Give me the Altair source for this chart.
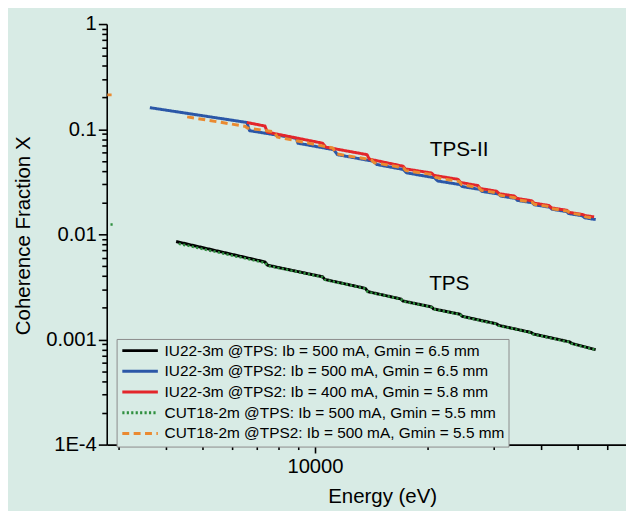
import altair as alt
import pandas as pd

# ---------------- data ----------------
SERIES = [
    "IU22-3m @TPS: Ib = 500 mA, Gmin = 6.5 mm",
    "IU22-3m @TPS2: Ib = 500 mA, Gmin = 6.5 mm",
    "IU22-3m @TPS2: Ib = 400 mA, Gmin = 5.8 mm",
    "CUT18-2m @TPS: Ib = 500 mA, Gmin = 5.5 mm",
    "CUT18-2m @TPS2: Ib = 500 mA, Gmin = 5.5 mm",
]

# IU22-3m @TPS, 500 mA (black)
iu22_tps_E = [4264, 7356, 7477, 10478, 10624, 13622, 13830, 16940, 17147, 20442,
              20691, 24369, 24667, 30499, 30870, 37694, 38153, 47752, 48334, 55997]
iu22_tps_X = [0.00854, 0.005461, 0.005083, 0.003946, 0.003724, 0.003064, 0.002852,
              0.002427, 0.002324, 0.002041, 0.001955, 0.001736, 0.001662, 0.001407,
              0.001362, 0.001166, 0.001129, 0.0009474, 0.0009173, 0.0008004]

# IU22-3m @TPS2, 500 mA (blue)
iu22_tps2_500_E = [3629, 6583, 6691, 8913, 9005, 11220, 11475, 14297, 14622, 17179,
                   17537, 20817, 21238, 24369, 24667, 27508, 27844, 30870, 31242, 34213,
                   34630, 37928, 38390, 42299, 42813, 46887, 47460, 51663, 52290, 55997]
iu22_tps2_500_X = [0.16021, 0.11584, 0.09681, 0.081967, 0.073564, 0.063781, 0.057251,
                   0.049527, 0.046117, 0.041391, 0.038457, 0.034517, 0.032142, 0.029715,
                   0.02846, 0.026739, 0.025606, 0.024144, 0.023124, 0.021954, 0.021024,
                   0.019961, 0.019117, 0.018089, 0.017322, 0.016447, 0.01575, 0.015005,
                   0.01437, 0.013819]

# IU22-3m @TPS2, 400 mA (red)
iu22_tps2_400_E = [6583, 7356, 7463, 10478, 10690, 13762, 13955, 17179, 17410, 20442,
                   20755, 24076, 24443, 27176, 27593, 30499, 30960, 34007, 34526, 37813,
                   38390, 42041, 42681, 46887, 47604, 51663, 52450, 55457]
iu22_tps2_400_X = [0.11584, 0.10716, 0.093722, 0.073564, 0.067475, 0.057251, 0.051939,
                   0.044453, 0.041933, 0.038292, 0.036357, 0.033344, 0.031114, 0.029098,
                   0.027269, 0.025724, 0.02437, 0.023138, 0.021968, 0.020857, 0.019802,
                   0.018802, 0.017851, 0.016949, 0.01616, 0.015444, 0.01508, 0.014661]

# CUT18-2m @TPS (green dotted); a lone point near the axis, then the main curve
cut18_tps_stray_E = [2850, 2890]
cut18_tps_stray_X = [0.0124, 0.0124]
cut18_tps_E = [4334, 7356, 7477, 10478, 10624, 13622, 13830, 16940, 17147, 20442,
               20691, 24369, 24667, 30499, 30870, 37694, 38153, 47752, 48334, 55895]
cut18_tps_X = [0.008144, 0.005367, 0.005029, 0.003912, 0.0037, 0.003044, 0.002834,
               0.002411, 0.002309, 0.002028, 0.001942, 0.001725, 0.001651, 0.001398,
               0.001353, 0.001158, 0.001122, 0.0009413, 0.0009114, 0.000797]

# CUT18-2m @TPS2 (orange dashed); a lone dash near the axis, then the main curve
cut18_tps2_stray_E = [2795, 2870]
cut18_tps2_stray_X = [0.212, 0.212]
cut18_tps2_E = [4563, 6504, 6603, 7753, 7943, 11152, 11391, 14125, 14384, 17200,
                17462, 20629, 21007, 24222, 24592, 27342, 27762, 30679, 31148, 34112,
                34630, 37928, 38390, 42299, 42813, 47173, 47752, 51975, 52610, 55722]
cut18_tps2_X = [0.13103, 0.1067, 0.10263, 0.094736, 0.084119, 0.066314, 0.058243,
                0.051161, 0.047946, 0.043036, 0.040329, 0.036992, 0.034665, 0.031794,
                0.029798, 0.027746, 0.026172, 0.024796, 0.023493, 0.022256, 0.021314,
                0.02019, 0.019337, 0.01832, 0.017543, 0.016621, 0.015918, 0.015247,
                0.014661, 0.014194]

# annotations
ann_text = ["TPS-II", "TPS"]
ann_E = [24222, 22798]
ann_X = [0.06282, 0.0033924]

# axis ticks
x_domain = [2785, 67450]
y_domain = [1e-4, 1]
x_major = [10000]
x_major_labels = ["10000"]
x_minor = [3000, 4000, 5000, 6000, 7000, 8000, 9000, 20000, 30000, 40000, 50000, 60000]
y_major = [1e-4, 1e-3, 1e-2, 0.1, 1]
y_major_labels = ["1E-4", "0.001", "0.01", "0.1", "1"]
y_minor = [m * d for d in [1e-4, 1e-3, 1e-2, 0.1] for m in range(2, 10)]

# ---------------- styles ----------------
BG = "#d8ebe5"
FONT = "Liberation Sans"
COLORS = ["#000000", "#2b57a7", "#e3262b", "#2f8f3f", "#ea8a30"]
DASHES = [[1, 0], [1, 0], [1, 0], [2.2, 2.3], [7, 4.5]]
WIDTHS = [3, 3, 3, 2.6, 3]

# ---------------- build table ----------------
rows = []
def add(series, seg, Es, Xs):
    for i, (e, x) in enumerate(zip(Es, Xs)):
        rows.append({"series": series, "seg": seg, "i": i, "E": e, "X": x})

add(SERIES[0], "a", iu22_tps_E, iu22_tps_X)
add(SERIES[1], "a", iu22_tps2_500_E, iu22_tps2_500_X)
add(SERIES[2], "a", iu22_tps2_400_E, iu22_tps2_400_X)
add(SERIES[3], "s", cut18_tps_stray_E, cut18_tps_stray_X)
add(SERIES[3], "a", cut18_tps_E, cut18_tps_X)
add(SERIES[4], "s", cut18_tps2_stray_E, cut18_tps2_stray_X)
add(SERIES[4], "a", cut18_tps2_E, cut18_tps2_X)
df = pd.DataFrame(rows)

ann_df = pd.DataFrame({"label": ann_text, "E": ann_E, "X": ann_X})


def label_expr(values, labels):
    parts = [f"abs(datum.value / {v} - 1) < 1e-6 ? '{lab}'" for v, lab in zip(values, labels)]
    return " : ".join(parts) + " : ''"


x_scale = alt.Scale(type="log", domain=x_domain)
y_scale = alt.Scale(type="log", domain=y_domain)
color_scale = alt.Scale(domain=SERIES, range=COLORS)
dash_scale = alt.Scale(domain=SERIES, range=DASHES)

# long, flat line symbol: custom path scaled by sqrt(size)/2
legend = alt.Legend(
    title=None, orient="none", legendX=10, legendY=319, direction="vertical",
    symbolType="M-1,0H5", symbolSize=144, symbolStrokeWidth=3,
    labelFont=FONT, labelFontSize=15.6, labelColor="black", labelOffset=29,
    labelLimit=500, padding=4, rowPadding=4,
    strokeColor="#8a8a8a", fillColor=BG,
)

x_major_axis = alt.Axis(
    orient="bottom", values=x_major, labelExpr=label_expr(x_major, x_major_labels),
    tickSize=8.5, tickWidth=1.6, domainWidth=1.6, labelFontSize=20.5,
    labelPadding=20, labelBaseline="alphabetic",
    title="Energy (eV)", titleFontSize=20.7, titleX=279, titleY=59,
    titleAlign="center", titleBaseline="alphabetic",
)
y_major_axis = alt.Axis(
    orient="left", values=y_major, labelExpr=label_expr(y_major, y_major_labels),
    tickSize=8.5, tickWidth=1.6, domainWidth=1.6, labelFontSize=20.5, labelPadding=2,
    title="Coherence Fraction X", titleFontSize=20.7, titleAngle=270,
    titleX=-78, titleY=214, titleAlign="center", titleBaseline="alphabetic",
)
x_minor_axis = alt.Axis(orient="bottom", values=x_minor, labels=False, domain=False,
                        tickSize=5, tickWidth=1.6, title=None)
y_minor_axis = alt.Axis(orient="left", values=y_minor, labels=False, domain=False,
                        tickSize=5, tickWidth=1.6, title=None)

layers = []
for k, s in enumerate(SERIES):
    layers.append(
        alt.Chart(df)
        .transform_filter(alt.datum.series == s)
        .mark_line(strokeWidth=WIDTHS[k], clip=True, strokeCap="butt", strokeJoin="round")
        .encode(
            x=alt.X("E:Q", scale=x_scale, axis=x_major_axis if k == 0 else None),
            y=alt.Y("X:Q", scale=y_scale, axis=y_major_axis if k == 0 else None),
            color=alt.Color("series:N", scale=color_scale, legend=legend),
            strokeDash=alt.StrokeDash("series:N", scale=dash_scale, legend=legend),
            detail="seg:N",
            order="i:Q",
        )
    )

minor = alt.Chart(df).mark_point(opacity=0).encode(
    x=alt.X("E:Q", scale=x_scale, axis=x_minor_axis),
    y=alt.Y("X:Q", scale=y_scale, axis=y_minor_axis),
)

text = alt.Chart(ann_df).mark_text(font=FONT, fontSize=21, color="black",
                                   align="center", baseline="middle").encode(
    x=alt.X("E:Q", scale=x_scale, axis=None),
    y=alt.Y("X:Q", scale=y_scale, axis=None),
    text="label:N",
)

chart = (
    alt.layer(*layers, minor, text)
    .resolve_axis(x="independent", y="independent")
    .properties(
        width=526, height=426,
        autosize=alt.AutoSizeParams(type="none"),
        padding={"left": 100, "top": 13, "right": 0, "bottom": 64},
        background=BG,
    )
    .configure_view(strokeWidth=0)
    .configure_axis(grid=False, domainColor="black", tickColor="black",
                    labelColor="black", titleColor="black", labelFont=FONT,
                    titleFont=FONT, titleFontWeight="normal")
)

chart.save("out.html", embed_options={"renderer": "svg", "actions": False})
